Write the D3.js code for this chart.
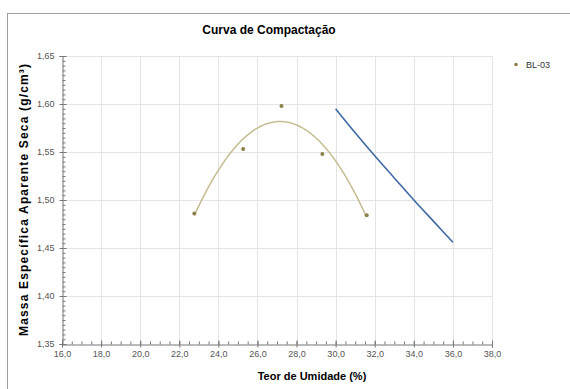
<!DOCTYPE html>
<html>
<head>
<meta charset="utf-8">
<script src="https://cdn.jsdelivr.net/npm/d3@7"></script>
<style>
  body { margin: 0; background: #fff; }
  svg { font-family: "Liberation Sans", Arial, sans-serif; }
  .tick text { fill: #555; font-size: 9px; }
</style>
</head>
<body>
<svg id="chart" width="570" height="389"></svg>
<script>
// Ensaio BL-03 (pontos medidos)
const umidade = [22.77, 25.27, 27.23, 29.32, 31.59];
const massaSeca = [1.486, 1.553, 1.598, 1.548, 1.484];

// Curva de saturação (linha azul)
const umidadeSat = [30, 31, 32, 33, 34, 35, 36];
const massaSat = [1.595, 1.570, 1.546, 1.523, 1.500, 1.478, 1.456];

const xTicks = [16, 18, 20, 22, 24, 26, 28, 30, 32, 34, 36, 38];
const yTicks = [1.35, 1.40, 1.45, 1.50, 1.55, 1.60, 1.65];

const svg = d3.select('#chart');
const plotLeft = 62, plotRight = 492, plotTop = 56, plotBottom = 344;

const x = d3.scaleLinear().domain([16, 38]).range([plotLeft, plotRight]);
const y = d3.scaleLinear().domain([1.35, 1.65]).range([plotBottom, plotTop]);
const fmt = d => d3.format('.1f')(d).replace('.', ',');
const fmtY = d => d3.format('.2f')(d).replace('.', ',');

// chart frame
svg.append('rect')
  .attr('x', 7.5).attr('y', 13.5)
  .attr('width', 600).attr('height', 400)
  .attr('fill', 'none').attr('stroke', '#a0a0a0');

// gridlines
svg.append('g').selectAll('line')
  .data(xTicks.slice(1))
  .enter().append('line')
  .attr('x1', d => Math.round(x(d)) + 0.5).attr('x2', d => Math.round(x(d)) + 0.5)
  .attr('y1', plotTop).attr('y2', plotBottom)
  .attr('stroke', '#e4e4e4');
svg.append('g').selectAll('line')
  .data(yTicks.slice(1))
  .enter().append('line')
  .attr('x1', plotLeft).attr('x2', plotRight)
  .attr('y1', d => Math.round(y(d)) + 0.5).attr('y2', d => Math.round(y(d)) + 0.5)
  .attr('stroke', '#e4e4e4');

// minor ticks
const xMinor = d3.range(16, 38.01, 0.5);
const yMinor = d3.range(1.35, 1.6501, 0.005);
svg.append('g')
  .attr('transform', 'translate(0,' + (plotBottom + 0.5) + ')')
  .call(d3.axisTop(x).tickValues(xMinor).tickSize(3).tickFormat(''))
  .call(g => g.select('.domain').remove())
  .selectAll('line').attr('stroke', '#777');
svg.append('g')
  .attr('transform', 'translate(' + (plotLeft + 0.5) + ',0)')
  .call(d3.axisRight(y).tickValues(yMinor).tickSize(3).tickFormat(''))
  .call(g => g.select('.domain').remove())
  .selectAll('line').attr('stroke', '#777');

// major axes
const xAxis = svg.append('g')
  .attr('transform', 'translate(0,' + (plotBottom + 0.5) + ')')
  .call(d3.axisBottom(x).tickValues(xTicks).tickSize(3).tickPadding(3).tickFormat(fmt));
xAxis.select('.domain').attr('stroke', '#777');
xAxis.selectAll('.tick line').attr('stroke', '#777').attr('y1', -4);

const yAxis = svg.append('g')
  .attr('transform', 'translate(' + (plotLeft + 0.5) + ',0)')
  .call(d3.axisLeft(y).tickValues(yTicks).tickSize(3).tickPadding(5).tickFormat(fmtY));
yAxis.select('.domain').attr('stroke', '#777');
yAxis.selectAll('.tick line').attr('stroke', '#777').attr('x1', 4);

// quadratic trendline (least squares fit of the BL-03 points)
function polyfit2(xs, ys) {
  const n = xs.length;
  const s = [0, 0, 0, 0, 0], t = [0, 0, 0];
  for (let i = 0; i < n; i++) {
    for (let k = 0; k < 5; k++) s[k] += Math.pow(xs[i], k);
    for (let k = 0; k < 3; k++) t[k] += ys[i] * Math.pow(xs[i], k);
  }
  const A = [[s[0], s[1], s[2], t[0]], [s[1], s[2], s[3], t[1]], [s[2], s[3], s[4], t[2]]];
  for (let i = 0; i < 3; i++) {
    for (let j = i + 1; j < 3; j++) {
      const f = A[j][i] / A[i][i];
      for (let k = i; k < 4; k++) A[j][k] -= f * A[i][k];
    }
  }
  const c = [0, 0, 0];
  for (let i = 2; i >= 0; i--) {
    let v = A[i][3];
    for (let k = i + 1; k < 3; k++) v -= A[i][k] * c[k];
    c[i] = v / A[i][i];
  }
  return c;
}
const coef = polyfit2(umidade, massaSeca);
const xs = d3.range(d3.min(umidade), d3.max(umidade) + 0.001, 0.05);
const line = d3.line().x(d => x(d[0])).y(d => y(d[1]));

svg.append('path')
  .datum(xs.map(v => [v, coef[0] + coef[1] * v + coef[2] * v * v]))
  .attr('d', line)
  .attr('fill', 'none')
  .attr('stroke', '#c6bc91')
  .attr('stroke-width', 1.5);

// saturation line
svg.append('path')
  .datum(umidadeSat.map((v, i) => [v, massaSat[i]]))
  .attr('d', line.curve(d3.curveMonotoneX))
  .attr('fill', 'none')
  .attr('stroke', '#3f6aa5')
  .attr('stroke-width', 1.6);

// points
svg.append('g').selectAll('circle')
  .data(umidade)
  .enter().append('circle')
  .attr('cx', d => x(d))
  .attr('cy', (d, i) => y(massaSeca[i]))
  .attr('r', 2)
  .attr('fill', '#8c7f4a');

// legend
svg.append('circle').attr('cx', 516).attr('cy', 64.5).attr('r', 1.8).attr('fill', '#8c7f4a');
svg.append('text').attr('x', 526).attr('y', 68)
  .style('font-size', '9px').attr('fill', '#333').text('BL-03');

// titles
svg.append('text')
  .attr('x', 269).attr('y', 34)
  .attr('text-anchor', 'middle')
  .style('font-size', '12px').style('font-weight', 'bold')
  .text('Curva de Compactação');

svg.append('text')
  .attr('x', 312).attr('y', 380)
  .attr('text-anchor', 'middle')
  .style('font-size', '11px').style('font-weight', 'bold')
  .text('Teor de Umidade (%)');

svg.append('text')
  .attr('transform', 'translate(28,200) rotate(-90)')
  .attr('text-anchor', 'middle')
  .attr('textLength', 272)
  .attr('lengthAdjust', 'spacing')
  .style('font-size', '12px').style('font-weight', 'bold')
  .text('Massa Específica Aparente Seca (g/cm³)');
</script>
</body>
</html>
